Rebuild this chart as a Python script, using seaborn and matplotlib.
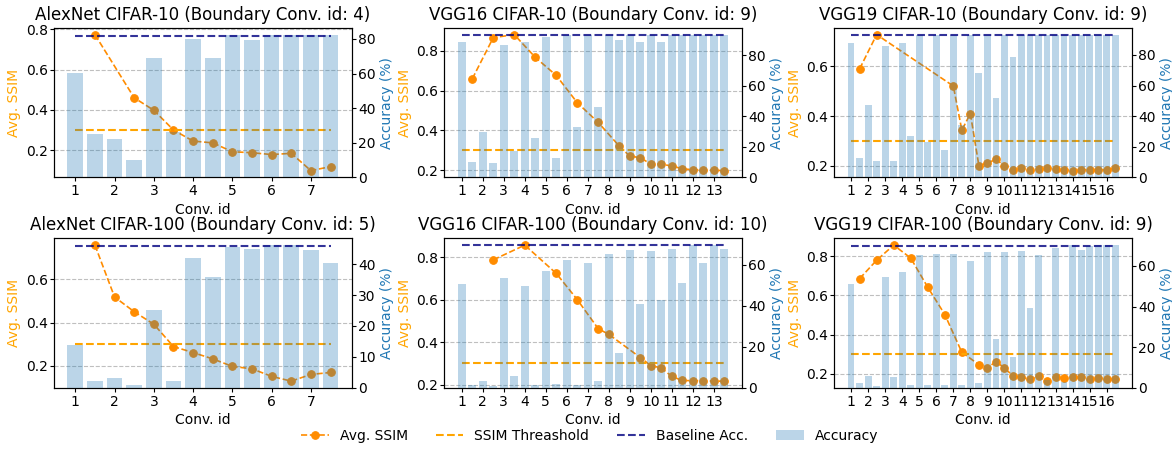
import numpy as np
import matplotlib
matplotlib.use('Agg')
import matplotlib.pyplot as plt
import seaborn as sns

# Accuracy (%) per layer: two bars per conv id (id and id + 0.5)
acc_alex10 = [60.2, 25.1, 22.3, 10.2, 68.9, 26.5, 79.8, 68.9, 82.0, 79.6, 82.3, 82.0, 82.3, 82.3]
acc_vgg16_10 = [89, 10, 30, 9.5, 87, 17, 89, 26, 92, 13, 93, 33, 93, 46,
                93, 90, 93, 89, 93, 89, 93, 93, 93, 93, 93, 93]
acc_vgg19_10 = [87.6, 12.5, 47, 11, 86, 11, 88, 27, 93, 23, 93, 17.6, 93, 34, 93, 68,
                93, 51.7, 93, 78.3, 93, 93, 93, 93, 93, 93, 93, 93, 93, 93, 93, 93]
acc_alex100 = [13.8, 2.3, 3.3, 1.1, 25.3, 2.3, 42.1, 35.8, 45.4, 44.7, 46.0, 46.0, 44.5, 40.2]
acc_vgg16_100 = [50.6, 1.6, 3.2, 1.0, 53.4, 5.6, 49.5, 1.3, 56.8, 1.9, 62.2, 1.4, 61.1, 3.2,
                 65.4, 17, 67.4, 41, 66.9, 43, 67.8, 51, 69.5, 61, 69.5, 67.8]
acc_vgg19_100 = [51, 2.3, 5.7, 0.8, 54.3, 5.3, 57.2, 1.5, 65.2, 1.5, 65.6, 1.5, 66, 1.5, 62.6, 2.4,
                 67, 23.8, 67, 15, 67.5, 39.3, 65.5, 4, 68.9, 3, 70, 68, 69.5, 70, 70, 70]

# Avg. SSIM per layer id
ssim_x_alex10 = [1.5, 2.5, 3, 3.5, 4, 4.5, 5, 5.5, 6, 6.5, 7, 7.5]
ssim_alex10 = [0.774, 0.46, 0.398, 0.30, 0.245, 0.236, 0.192, 0.187, 0.178, 0.184, 0.098, 0.118]

ssim_x_vgg16_10 = [1.5, 2.5, 3.5, 4.5, 5.5, 6.5, 7.5, 8.5, 9, 9.5, 10, 10.5, 11, 11.5, 12, 12.5, 13, 13.5]
ssim_vgg16_10 = [0.659, 0.866, 0.881, 0.767, 0.676, 0.539, 0.44, 0.321, 0.271, 0.263,
                 0.231, 0.231, 0.221, 0.208, 0.202, 0.202, 0.2, 0.198]

ssim_x_vgg19_10 = [1.5, 2.5, 7, 7.5, 8, 8.5, 9, 9.5, 10, 10.5, 11, 11.5, 12, 12.5,
                   13, 13.5, 14, 14.5, 15, 15.5, 16, 16.5]
ssim_vgg19_10 = [0.59, 0.728, 0.521, 0.343, 0.41, 0.2, 0.21, 0.226, 0.199, 0.182, 0.19,
                 0.184, 0.187, 0.19, 0.185, 0.184, 0.18, 0.184, 0.183, 0.184, 0.183, 0.189]

ssim_x_alex100 = [1.5, 2, 2.5, 3, 3.5, 4, 4.5, 5, 5.5, 6, 6.5, 7, 7.5]
ssim_alex100 = [0.758, 0.518, 0.45, 0.392, 0.289, 0.261, 0.232, 0.197, 0.186, 0.151, 0.129, 0.16, 0.169]

ssim_x_vgg16_100 = [2.5, 4, 5.5, 6.5, 7.5, 8, 9.5, 10, 10.5, 11, 11.5, 12, 12.5, 13, 13.5]
ssim_vgg16_100 = [0.787, 0.856, 0.723, 0.6, 0.463, 0.437, 0.328, 0.29, 0.279, 0.239,
                  0.22, 0.219, 0.219, 0.217, 0.217]

ssim_x_vgg19_100 = [1.5, 2.5, 3.5, 4.5, 5.5, 6.5, 7.5, 8.5, 9, 9.5, 10, 10.5, 11, 11.5,
                    12, 12.5, 13, 13.5, 14, 14.5, 15, 15.5, 16, 16.5]
ssim_vgg19_100 = [0.686, 0.78, 0.857, 0.791, 0.642, 0.503, 0.31, 0.247, 0.23, 0.263, 0.23, 0.19,
                  0.183, 0.172, 0.187, 0.163, 0.183, 0.178, 0.185, 0.183, 0.173, 0.178, 0.175, 0.175]

n_convs = [7, 13, 16, 7, 13, 16]
baselines = [81.8, 93.3, 93.0, 45.8, 69.5, 69.8]
ssim_threshold = 0.3
titles = ['AlexNet CIFAR-10 (Boundary Conv. id: 4)',
          'VGG16 CIFAR-10 (Boundary Conv. id: 9)',
          'VGG19 CIFAR-10 (Boundary Conv. id: 9)',
          'AlexNet CIFAR-100 (Boundary Conv. id: 5)',
          'VGG16 CIFAR-100 (Boundary Conv. id: 10)',
          'VGG19 CIFAR-100 (Boundary Conv. id: 9)']

accs = [acc_alex10, acc_vgg16_10, acc_vgg19_10, acc_alex100, acc_vgg16_100, acc_vgg19_100]
ssim_xs = [ssim_x_alex10, ssim_x_vgg16_10, ssim_x_vgg19_10,
           ssim_x_alex100, ssim_x_vgg16_100, ssim_x_vgg19_100]
ssims = [ssim_alex10, ssim_vgg16_10, ssim_vgg19_10, ssim_alex100, ssim_vgg16_100, ssim_vgg19_100]

# Short ticks, tight label padding
plt.rcParams.update({
    'xtick.major.size': 3, 'ytick.major.size': 3,
    'xtick.major.pad': 2, 'ytick.major.pad': 1.5,
    'axes.labelpad': 3,
})


def plot_panel(ax, title, n_conv, acc, ssim_x, ssim, baseline):
    """SSIM on the left axis, accuracy bars on a twin right axis"""
    layer_pos = np.arange(1, n_conv + 1, 0.5)
    ax2 = ax.twinx()

    ax.grid(axis='y', linestyle='--', color='gray', alpha=0.5, linewidth=0.8)
    sns.lineplot(x=ssim_x, y=ssim, ax=ax, color='darkorange', marker='o',
                 linestyle='--', linewidth=1.2, markersize=5.5,
                 markeredgecolor='darkorange', label='Avg. SSIM')
    ax.plot([layer_pos[0], layer_pos[-1]], [ssim_threshold, ssim_threshold],
            linestyle='--', color='orange', linewidth=1.5, label='SSIM Threashold')

    sns.barplot(x=layer_pos, y=acc, ax=ax2, native_scale=True, color='tab:blue',
                saturation=1, alpha=0.3, errorbar=None, label='Accuracy')
    ax2.plot([layer_pos[0], layer_pos[-1]], [baseline, baseline],
             linestyle='--', color='navy', alpha=0.8, linewidth=1.5, label='Baseline Acc.')

    for a in (ax, ax2):
        if a.get_legend() is not None:
            a.get_legend().remove()

    ax.set_xticks(range(1, n_conv + 1))
    ax.set_title(title, fontsize=12)
    ax.set_xlabel('Conv. id')
    ax.set_ylabel('Avg. SSIM', color='orange')
    ax2.set_ylabel('Accuracy (%)', color='tab:blue')
    return ax2


fig, axes = plt.subplots(2, 3, figsize=(11.72, 4.49), dpi=100)
twins = []
for i, ax in enumerate(axes.flat):
    twins.append(plot_panel(ax, titles[i], n_convs[i], accs[i], ssim_xs[i], ssims[i], baselines[i]))

fig.subplots_adjust(left=0.046, right=0.966, bottom=0.136, top=0.938, wspace=0.309, hspace=0.407)

# Shared legend from the first panel
h1, l1 = axes[0, 0].get_legend_handles_labels()
h2, l2 = twins[0].get_legend_handles_labels()
fig.legend(h1 + h2, l1 + l2, loc='center', ncol=4, frameon=False, bbox_to_anchor=(0.503, 0.029))

plt.savefig('out.png', dpi=100)
plt.close()
